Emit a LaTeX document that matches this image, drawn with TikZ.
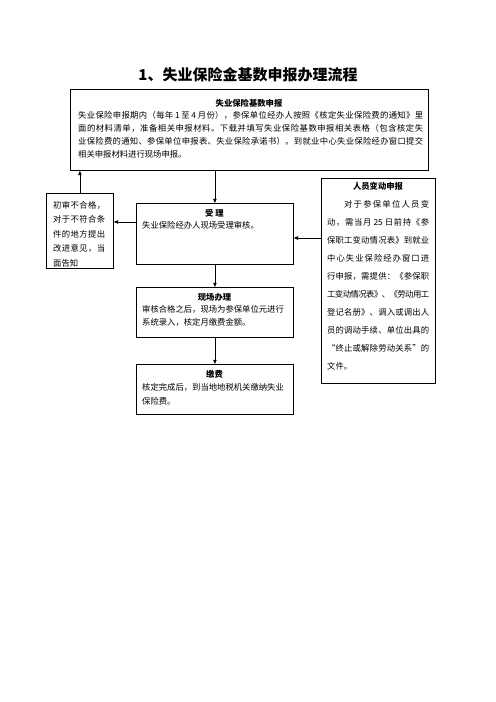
\documentclass[tikz,border=0pt]{standalone}
\usepackage{fontspec}
\setmainfont{Noto Sans CJK SC}
\usetikzlibrary{arrows.meta}
\ExplSyntaxOn
\NewDocumentCommand\spr{mm}{\makebox[#1][s]{\hskip 0pt plus -1fil minus -2pt\tl_map_inline:nn{#2}{\hskip 0pt plus 1fil minus 2pt ##1}}}
\ExplSyntaxOff
\tikzset{
  box/.style={draw, line width=1pt, anchor=north west, inner sep=0pt},
  txt/.style={inner sep=0pt, anchor=base west, align=left},
  hdr/.style={inner sep=0pt, font=\fontsize{10}{12}\selectfont\bfseries},
  arr/.style={-{Triangle[length=5pt,width=4pt]}, line width=0.9pt}
}
\begin{document}
\begin{tikzpicture}[x=1.2pt,y=-1.2pt]
\useasboundingbox[fill=white] (0,0) rectangle (496,702);
% title
\node[inner sep=0pt, font=\fontsize{18}{20}\selectfont\bfseries] (title) at (248,75) {1、失业保险金基数申报办理流程};
% boxes
\node[box, minimum width=429.6pt, minimum height=97.2pt] (top) at (70,89) {};
\node[box, minimum width=80.4pt, minimum height=90pt] (left) at (46,193) {};
\node[box, minimum width=188.4pt, minimum height=73.2pt] (slz) at (136,203) {};
\node[box, minimum width=136.8pt, minimum height=246pt] (right) at (321,178) {};
\node[box, minimum width=188.4pt, minimum height=60pt] (xc) at (136,287) {};
\node[box, minimum width=188.4pt, minimum height=60pt] (jf) at (136,364) {};
% top box text (base anchor = last line)
\node[hdr] (toph) at (249,103) {失业保险基数申报};
\node[txt, font=\fontsize{10}{15.6}\selectfont] (topb) at (78,157) {%
\spr{414pt}{失业保险申报期内（每年{\,1\,}至{\,4\,}月份），参保单位经办人按照《核定失业保险费的通知》里}\\
\spr{414pt}{面的材料清单，准备相关申报材料。下载并填写失业保险基数申报相关表格（包含核定失}\\
\spr{414pt}{业保险费的通知、参保单位申报表、失业保险承诺书）。到就业中心失业保险经办窗口提交}\\
相关申报材料进行现场申报。};
% left box text
\node[txt, font=\fontsize{10}{17.4}\selectfont] (leftb) at (53,266) {%
\spr{62.4pt}{初审不合格，}\\
\spr{62.4pt}{对于不符合条}\\
\spr{62.4pt}{件的地方提出}\\
\spr{62.4pt}{改进意见，当}\\
面告知};
% shouli
\node[hdr] (slzh) at (214.5,213) {受\ 理};
\node[txt, font=\fontsize{10}{15.6}\selectfont] (slzb) at (142,228) {失业保险经办人现场受理审核。};
% right box
\node[hdr] (righth) at (378,186) {人员变动申报};
\node[txt, font=\fontsize{10}{21.6}\selectfont] (rightb) at (327,369) {%
\hspace*{20.4pt}\spr{102pt}{对于参保单位人员变}\\
\spr{122.4pt}{动，需当月{\,25\,}日前持《参}\\
\spr{122.4pt}{保职工变动情况表》到就业}\\
\spr{122.4pt}{中心失业保险经办窗口进}\\
\spr{122.4pt}{行申报，需提供：《参保职}\\
\spr{122.4pt}{工变动情况表》、《劳动用工}\\
\spr{122.4pt}{登记名册》、调入或调出人}\\
\spr{122.4pt}{员的调动手续、单位出具的}\\
\spr{122.4pt}{“终止或解除劳动关系”的}\\
文件。};
% xianchang
\node[hdr] (xch) at (214.5,297) {现场办理};
\node[txt, font=\fontsize{10}{15.6}\selectfont] (xcb) at (142,325) {审核合格之后，现场为参保单位元进行\\系统录入，核定月缴费金额。};
% jiaofei
\node[hdr] (jfh) at (214.5,374) {缴费};
\node[txt, font=\fontsize{10}{16.8}\selectfont] (jfb) at (142,404) {核定完成后，到当地地税机关缴纳失业\\保险费。};
% connectors
\coordinate (la) at (136,222);
\coordinate (ra) at (321,238);
\draw[arr] (slz.north |- top.south) -- (slz.north);
\draw[arr] (slz.south) -- (xc.north);
\draw[arr] (xc.south) -- (jf.north);
\draw[arr] (la) -- (la -| left.east);
\draw[arr] (left.north) -- (left.north |- top.south);
\draw[arr] (ra) -- (ra -| slz.east);
\end{tikzpicture}
\end{document}
